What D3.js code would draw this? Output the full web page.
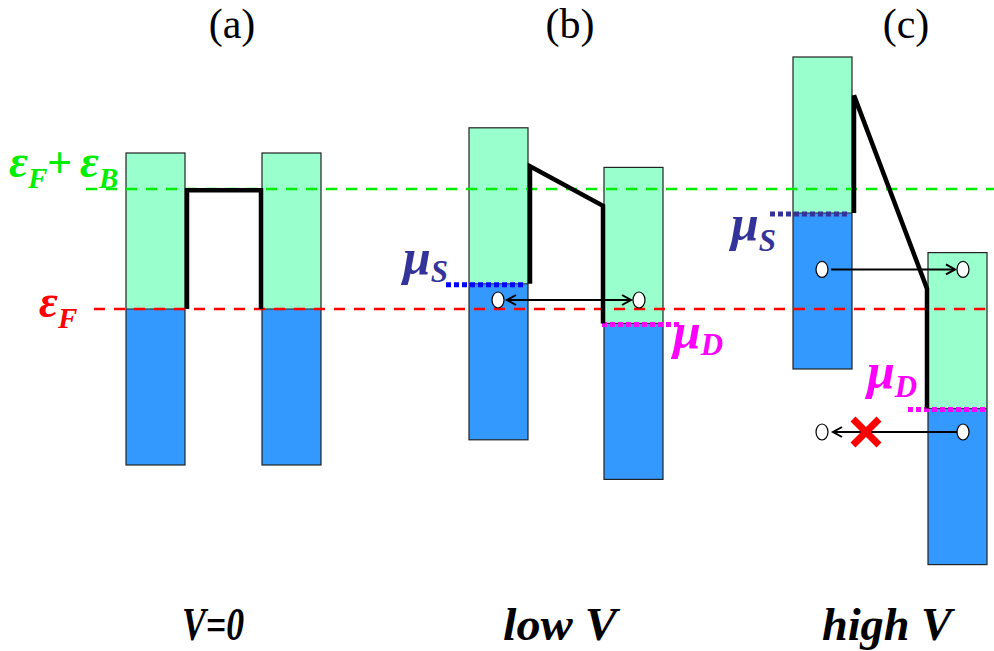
<!DOCTYPE html>
<html><head><meta charset="utf-8">
<script src="https://cdn.jsdelivr.net/npm/d3@7"></script>
<style>html,body{margin:0;padding:0;background:#fff;}svg{display:block;}</style>
</head><body>
<svg id="c" width="994" height="651"></svg>
<script>
// ---- data (energies in units of the barrier height, eF = 0) ----
const panelLabels = ["(a)", "(b)", "(c)"];
const voltageLabels = ["V=0", "low V", "high V"];
const muSource = [0.0, 0.21, 0.80];
const muDrain = [0.0, -0.12, -0.83];
const bandHalf = [1.3, 1.3, 1.3];
const barrierSource = [0.99, 1.19, 1.78];
const barrierDrain = [0.99, 0.86, 0.17];
const fermiLevel = 0.0;
const fermiPlusBarrier = 1.0;
// electrons: panel, energy, direction (1 right, -1 left, 0 both), blocked
const electronPanel = [1, 2, 2];
const electronEnergy = [0.075, 0.33, -1.025];
const electronDir = [0, 1, -1];
const electronBlocked = [false, false, true];

// ---- layout ----
const svg = d3.select("#c");
const W = 994, H = 651;
const y = d3.scaleLinear().domain([-2.85, 2.575]).range([651, 0]);
const x = d3.scaleLinear().domain([0, 994]).range([0, 994]);
const srcLeft = [126, 469, 793];
const drnLeft = [262, 604, 928];
const bandW = 59;
const panelCenter = [232, 570, 906];
const bottomCenter = [213, 560, 887];
const bottomWidth = [62, 114, 130];
const green = "#99FFCC", blue = "#3399FF";
const serif = "'Liberation Serif','Times New Roman',serif";

// bands
function band(x0, mu, half) {
  svg.append("rect").attr("x", x(x0)).attr("y", y(mu + half))
    .attr("width", bandW).attr("height", y(mu) - y(mu + half))
    .attr("fill", green).attr("stroke", "none");
  svg.append("rect").attr("x", x(x0)).attr("y", y(mu))
    .attr("width", bandW).attr("height", y(mu - half) - y(mu))
    .attr("fill", blue).attr("stroke", "none");
  svg.append("rect").attr("x", x(x0)).attr("y", y(mu + half))
    .attr("width", bandW).attr("height", y(mu - half) - y(mu + half))
    .attr("fill", "none").attr("stroke", "#222").attr("stroke-width", 1.2);
  svg.append("line").attr("x1", x(x0)).attr("x2", x(x0) + bandW)
    .attr("y1", y(mu)).attr("y2", y(mu)).attr("stroke", "#222").attr("stroke-width", 1);
}
for (let i = 0; i < 3; i++) {
  band(srcLeft[i], muSource[i], bandHalf[i]);
  band(drnLeft[i], muDrain[i], bandHalf[i]);
}

// reference dashed lines
svg.append("line").attr("x1", 86).attr("x2", W).attr("y1", y(fermiPlusBarrier)).attr("y2", y(fermiPlusBarrier))
  .attr("stroke", "#00EE00").attr("stroke-width", 2.5).attr("stroke-dasharray", "11,9");
svg.append("line").attr("x1", 94).attr("x2", W).attr("y1", y(fermiLevel)).attr("y2", y(fermiLevel))
  .attr("stroke", "#FF0000").attr("stroke-width", 2.5).attr("stroke-dasharray", "11,9");

// chemical potential dotted lines (b) and (c)
const muSColor = ["#0000FF", "#0000FF", "#333399"];
for (let i = 1; i < 3; i++) {
  svg.append("line").attr("x1", srcLeft[i] - 23).attr("x2", srcLeft[i] + bandW - 4)
    .attr("y1", y(muSource[i]) + 1).attr("y2", y(muSource[i]) + 1)
    .attr("stroke", muSColor[i]).attr("stroke-width", 5).attr("stroke-dasharray", "5,3");
  svg.append("line").attr("x1", drnLeft[i] - 2 - (i === 2 ? 18 : 0)).attr("x2", drnLeft[i] + bandW + (i === 1 ? 17 : -1))
    .attr("y1", y(muDrain[i]) + 1).attr("y2", y(muDrain[i]) + 1)
    .attr("stroke", "#FF00FF").attr("stroke-width", 5).attr("stroke-dasharray", "5,3");
}

// barriers
for (let i = 0; i < 3; i++) {
  const xs = srcLeft[i] + bandW + 2, xd = drnLeft[i] - 1;
  const pts = [[xs, y(muSource[i])], [xs, y(barrierSource[i])], [xd, y(barrierDrain[i])], [xd, y(muDrain[i])]];
  svg.append("path").attr("d", d3.line()(pts)).attr("fill", "none")
    .attr("stroke", "#000").attr("stroke-width", 4.5).attr("stroke-linejoin", "miter");
}

// electrons and arrows
function chevron(px, py, dir) {
  svg.append("path").attr("d", d3.line()([[px - dir * 9, py - 5], [px, py], [px - dir * 9, py + 5]]))
    .attr("fill", "none").attr("stroke", "#000").attr("stroke-width", 2);
}
for (let k = 0; k < electronPanel.length; k++) {
  const p = electronPanel[k];
  const cy = y(electronEnergy[k]);
  const cs = srcLeft[p] + 29, cd = drnLeft[p] + 35;
  const dir = electronDir[k];
  const xa = cs + (dir === -1 ? 11 : 9), xb = cd - (dir === -1 ? 4 : 8);
  svg.append("line").attr("x1", xa).attr("x2", xb).attr("y1", cy).attr("y2", cy)
    .attr("stroke", "#000").attr("stroke-width", 2);
  if (dir >= 0) chevron(xb, cy, 1);
  if (dir <= 0) chevron(xa, cy, -1);
  [cs, cd].forEach(cx => svg.append("ellipse").attr("cx", cx).attr("cy", cy).attr("rx", 6).attr("ry", 8)
    .attr("fill", "#fff").attr("stroke", "#000").attr("stroke-width", 1.2));
  if (electronBlocked[k]) {
    const mx = (xa + xb) / 2 - 30, s = 13;
    svg.append("path").attr("d", `M${mx - s},${cy - s}L${mx + s},${cy + s}M${mx + s},${cy - s}L${mx - s},${cy + s}`)
      .attr("stroke", "#FF0000").attr("stroke-width", 7);
  }
}

// panel labels
panelLabels.forEach((t, i) => svg.append("text").attr("x", panelCenter[i]).attr("y", 38)
  .attr("text-anchor", "middle").attr("font-family", serif).attr("font-size", 42).text(t));
voltageLabels.forEach((t, i) => svg.append("text").attr("x", bottomCenter[i] - bottomWidth[i] / 2).attr("y", 640)
  .attr("font-family", serif).attr("font-size", 46)
  .attr("textLength", bottomWidth[i]).attr("lengthAdjust", "spacingAndGlyphs")
  .attr("font-weight", "bold").attr("font-style", "italic").text(t));

// symbol labels
function sym(xp, yp, main, sub, color, size, subSize, dy) {
  const t = svg.append("text").attr("x", xp).attr("y", yp).attr("font-family", serif)
    .attr("font-weight", "bold").attr("font-style", "italic").attr("fill", color).attr("font-size", size);
  t.append("tspan").text(main);
  t.append("tspan").attr("font-size", subSize).attr("dy", dy).text(sub);
  return t;
}
// eF + eB
sym(9, 177, "ε", "F", "#00EE00", 46, 29, 11);
svg.append("text").attr("x", 47).attr("y", 177).attr("font-family", serif).attr("font-weight", "bold")
  .attr("fill", "#00EE00").attr("font-size", 44).text("+");
sym(80, 177, "ε", "B", "#00EE00", 46, 29, 11);
sym(39, 317, "ε", "F", "#FF0000", 46, 29, 11);
sym(403, 274, "μ", "S", "#333399", 50, 31, 8);
sym(673, 348, "μ", "D", "#FF00FF", 50, 31, 7);
sym(731, 240, "μ", "S", "#333399", 50, 31, 11);
sym(867, 388, "μ", "D", "#FF00FF", 50, 31, 9);
</script>
</body></html>
